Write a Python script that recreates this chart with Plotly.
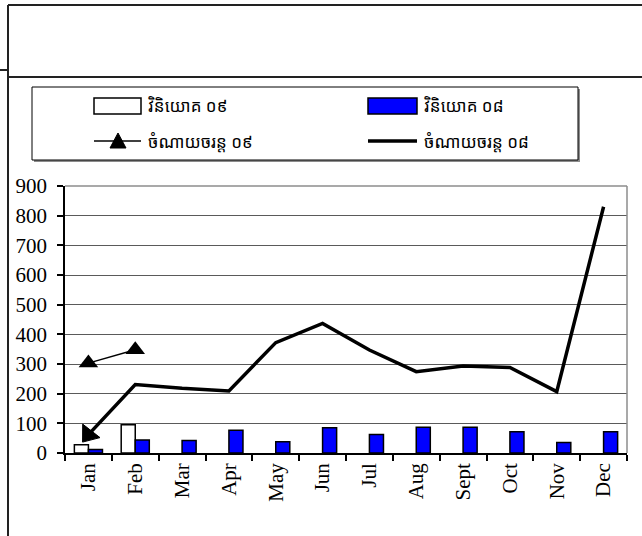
import plotly.graph_objects as go

# Monthly figures
months = ["Jan", "Feb", "Mar", "Apr", "May", "Jun", "Jul", "Aug", "Sept", "Oct", "Nov", "Dec"]
invest_09 = [28, 95, None, None, None, None, None, None, None, None, None, None]
invest_08 = [12, 44, 42, 77, 38, 85, 62, 87, 87, 72, 35, 72]
spend_09 = [303, 348, None, None, None, None, None, None, None, None, None, None]
spend_08 = [62, 231, 218, 209, 372, 437, 347, 274, 293, 288, 207, 830]

name_inv09 = "វិនិយោគ ០៩"
name_inv08 = "វិនិយោគ ០៨"
name_sp09 = "ចំណាយចរន្ត ០៩"
name_sp08 = "ចំណាយចរន្ត ០៨"

W, H = 642, 536
L, R, T, B = 65, 15, 186, 83
PW, PH = W - L - R, H - T - B


def px(x):
    return (x - L) / PW


def py(y):
    return (H - B - y) / PH


serif = "Liberation Serif"
khmer = "Khmer OS, Noto Sans Khmer, Khmer OS System, Noto Sans, DejaVu Sans, sans-serif"

fig = go.Figure()
fig.add_trace(go.Bar(x=months, y=invest_09, name=name_inv09,
                     marker=dict(color="white", line=dict(color="black", width=1.5))))
fig.add_trace(go.Bar(x=months, y=invest_08, name=name_inv08,
                     marker=dict(color="#0000FF", line=dict(color="black", width=1.5))))
fig.add_trace(go.Scatter(x=months, y=spend_09, name=name_sp09, mode="lines+markers",
                         line=dict(color="black", width=1.5),
                         marker=dict(symbol="triangle-up", size=17, color="black")))
fig.add_trace(go.Scatter(x=months, y=spend_08, name=name_sp08, mode="lines",
                         line=dict(color="black", width=3.5)))
# arrow head where the 08 line starts
fig.add_trace(go.Scatter(x=months[:1], y=spend_08[:1], mode="markers", showlegend=False,
                         marker=dict(symbol="triangle-up", color="black", size=19, angle=218,
                                     line=dict(color="black", width=1))))

shapes = []
# surrounding frame lines
frame = dict(type="line", xref="paper", yref="paper", line=dict(color="#222", width=2))
shapes.append(dict(frame, x0=px(8), x1=px(8), y0=py(5), y1=py(H)))
shapes.append(dict(frame, x0=px(8), x1=px(W), y0=py(5), y1=py(5)))
shapes.append(dict(frame, x0=px(0), x1=px(8), y0=py(70), y1=py(70)))
shapes.append(dict(frame, x0=px(8), x1=px(W), y0=py(77), y1=py(77)))

# legend box with shadow
shapes.append(dict(type="rect", xref="paper", yref="paper", x0=px(34), x1=px(580),
                   y0=py(89), y1=py(162), line=dict(width=0), fillcolor="#8c8c8c"))
shapes.append(dict(type="rect", xref="paper", yref="paper", x0=px(32), x1=px(578),
                   y0=py(87), y1=py(160), line=dict(color="black", width=1), fillcolor="white"))
# legend keys
shapes.append(dict(type="rect", xref="paper", yref="paper", x0=px(94), x1=px(141),
                   y0=py(98), y1=py(114), line=dict(color="black", width=1.5), fillcolor="white"))
shapes.append(dict(type="rect", xref="paper", yref="paper", x0=px(368), x1=px(417),
                   y0=py(98), y1=py(114), line=dict(color="black", width=1.5), fillcolor="#0000FF"))
shapes.append(dict(type="line", xref="paper", yref="paper", x0=px(94), x1=px(141),
                   y0=py(141), y1=py(141), line=dict(color="black", width=1.5)))
shapes.append(dict(type="path", xref="paper", yref="paper",
                   path=f"M {px(110)} {py(148)} L {px(126)} {py(148)} L {px(118)} {py(133)} Z",
                   line=dict(color="black", width=1), fillcolor="black"))
shapes.append(dict(type="line", xref="paper", yref="paper", x0=px(368), x1=px(417),
                   y0=py(141), y1=py(141), line=dict(color="black", width=3.5)))

# plot area border (top and right)
shapes.append(dict(type="line", xref="paper", yref="paper", x0=0, x1=1, y0=1, y1=1,
                   line=dict(color="#8c8c8c", width=1.5)))
shapes.append(dict(type="line", xref="paper", yref="paper", x0=1, x1=1, y0=0, y1=1,
                   line=dict(color="#8c8c8c", width=1.5)))

annotations = []
for text, x, y in [(name_inv09, 146, 106), (name_inv08, 422, 106),
                   (name_sp09, 146, 141), (name_sp08, 422, 141)]:
    annotations.append(dict(text=text, xref="paper", yref="paper", x=px(x), y=py(y),
                            xanchor="left", yanchor="middle", showarrow=False,
                            font=dict(family=khmer, size=17, color="black")))

fig.update_layout(
    width=W, height=H,
    margin=dict(l=L, r=R, t=T, b=B),
    paper_bgcolor="white", plot_bgcolor="white",
    showlegend=False,
    barmode="group", bargap=0.4, bargroupgap=0,
    shapes=shapes, annotations=annotations,
    font=dict(family=serif, size=21, color="black"),
)
fig.update_xaxes(
    type="category", range=[-0.5, len(months) - 0.5],
    showgrid=False, showline=True, linecolor="black", linewidth=1.5,
    ticks="outside", tickson="boundaries", ticklen=6, tickcolor="black", tickwidth=1.5,
    tickangle=-90, tickfont=dict(family=serif, size=21, color="black"),
)
fig.update_yaxes(
    range=[0, 900], dtick=100, tick0=0,
    showgrid=True, gridcolor="#5a5a5a", gridwidth=1,
    showline=True, linecolor="black", linewidth=1.5, zeroline=False,
    ticks="outside", ticklen=6, tickcolor="black", tickwidth=1.5,
    ticklabelstandoff=6,
    tickfont=dict(family=serif, size=21, color="black"),
)

fig.write_html("out.html")
